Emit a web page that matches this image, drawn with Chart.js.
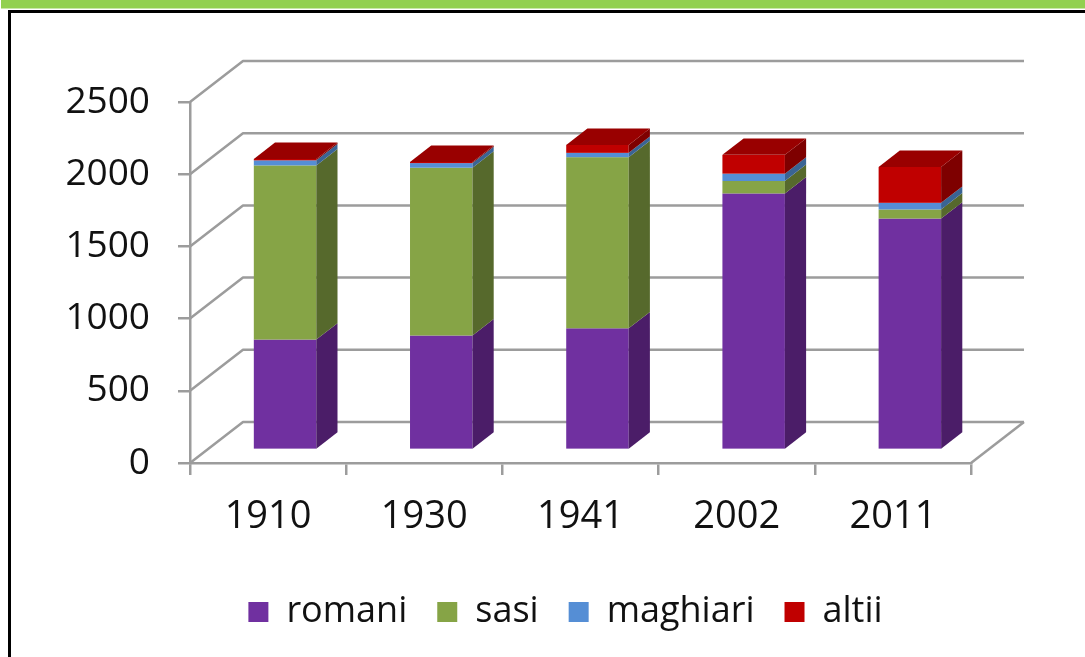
<!DOCTYPE html>
<html lang="ro">
<head>
  <meta charset="UTF-8">
  <title>Populatia pe etnii</title>
  <script src="https://cdn.jsdelivr.net/npm/chart.js"></script>
  <style>
    body { margin: 0; padding: 0; background: #fff; }
    canvas { display: block; }
  </style>
</head>
<body>
  <canvas id="etnii" width="1085" height="657"></canvas>

  <script>
    // Data
    const years = ['1910', '1930', '1941', '2002', '2011'];
    const romani = [764, 792, 842, 1776, 1602];
    const sasi = [1206, 1162, 1185, 86, 63];
    const maghiari = [35, 32, 30, 51, 46];
    const altii = [10, 8, 55, 130, 248];
    const yTicks = [0, 500, 1000, 1500, 2000, 2500];

    // front / side / top shades
    const shades = [
      ['#7030a0', '#4b1d68', '#5a2680'],
      ['#86a446', '#56692c', '#6b8436'],
      ['#558ed5', '#3a6494', '#4676b0'],
      ['#c00000', '#7e0000', '#990000']
    ];

    const FONT = "'Open Sans', 'DejaVu Sans', sans-serif";
    const GRID = '#9c9c9c';
    const DX = 53, DY = 41;        // depth of the walls
    const FRONT = 0.32, DEPTH = 0.4; // where the columns sit in the depth

    // frame, walls and gridlines
    const walls = {
      id: 'walls',
      afterLayout(chart) {
        // centre the legend under the whole picture, not the plot
        chart.legend.left -= 15;
        chart.legend.right -= 15;
      },
      beforeDraw(chart) {
        const c = chart.ctx;
        c.save();
        c.fillStyle = '#fff';
        c.fillRect(0, 0, chart.width, chart.height);
        c.fillStyle = '#92d050';
        c.fillRect(1, 0, chart.width, 8.5);
        c.strokeStyle = '#000';
        c.lineWidth = 3;
        c.strokeRect(9.5, 11.5, chart.width + 20, chart.height + 20);
        c.restore();
      },
      beforeDatasetsDraw(chart) {
        const c = chart.ctx;
        const { left, right, bottom } = chart.chartArea;
        const y = chart.scales.y;
        c.save();
        c.strokeStyle = GRID;
        c.lineWidth = 2.5;
        c.lineJoin = 'round';
        yTicks.forEach(v => {
          const py = y.getPixelForValue(v);
          c.beginPath();
          c.moveTo(left, py);
          c.lineTo(left + DX, py - DY);
          c.lineTo(right + DX, py - DY);
          c.stroke();
        });
        c.beginPath();
        c.moveTo(right, bottom);
        c.lineTo(right + DX, bottom - DY);
        c.stroke();
        c.restore();
      },
      beforeDatasetDraw() {
        return false; // the columns are drawn in 3D below
      },
      afterDatasetsDraw(chart) {
        const c = chart.ctx;
        const sx = FRONT * DX, sy = FRONT * DY;
        const dx = DEPTH * DX, dy = DEPTH * DY;
        const n = chart.data.datasets.length;
        c.save();
        years.forEach((yr, j) => {
          let last = -1;
          for (let i = 0; i < n; i++) {
            const bar = chart.getDatasetMeta(i).data[j];
            const p = bar.getProps(['x', 'y', 'base', 'width'], true);
            const l = p.x - p.width / 2 + sx, r = p.x + p.width / 2 + sx;
            const t = p.y - sy, b = p.base - sy;
            if (b - t <= 0) continue;
            // front
            c.fillStyle = shades[i][0];
            c.fillRect(l, t, r - l, b - t);
            // side
            c.fillStyle = shades[i][1];
            c.beginPath();
            c.moveTo(r, t);
            c.lineTo(r + dx, t - dy);
            c.lineTo(r + dx, b - dy);
            c.lineTo(r, b);
            c.closePath();
            c.fill();
            last = i;
          }
          if (last >= 0) {
            const p = chart.getDatasetMeta(last).data[j].getProps(['x', 'y', 'width'], true);
            const l = p.x - p.width / 2 + sx, r = p.x + p.width / 2 + sx;
            const t = p.y - sy;
            c.fillStyle = shades[last][2];
            c.beginPath();
            c.moveTo(l, t);
            c.lineTo(l + dx, t - dy);
            c.lineTo(r + dx, t - dy);
            c.lineTo(r, t);
            c.closePath();
            c.fill();
          }
        });
        c.restore();
      }
    };

    const series = [
      ['romani', romani],
      ['sasi', sasi],
      ['maghiari', maghiari],
      ['altii', altii]
    ];

    new Chart(document.getElementById('etnii'), {
      type: 'bar',
      data: {
        labels: years,
        datasets: series.map(([name, vals], i) => ({
          label: name,
          data: vals,
          backgroundColor: shades[i][0],
          borderWidth: 0,
          categoryPercentage: 0.4,
          barPercentage: 1
        }))
      },
      options: {
        responsive: false,
        animation: false,
        devicePixelRatio: 1,
        layout: { padding: { left: 40, right: 114, top: 102, bottom: 17 } },
        plugins: {
          tooltip: { enabled: false },
          legend: {
            position: 'bottom',
            fullSize: false,
            labels: {
              font: { family: FONT, size: 36 },
              color: '#111',
              boxWidth: 20,
              boxHeight: 20,
              padding: 30
            }
          }
        },
        scales: {
          x: {
            stacked: true,
            offset: true,
            grid: { offset: true, drawOnChartArea: false, tickLength: 12, color: GRID, lineWidth: 2.5 },
            border: { display: true, color: GRID, width: 2.5 },
            ticks: { font: { family: FONT, size: 38 }, color: '#111', padding: 19, maxRotation: 0 },
            afterFit(s) { s.height = 101; }
          },
          y: {
            stacked: true,
            min: 0,
            max: 2500,
            grid: { drawOnChartArea: false, tickLength: 12, color: GRID, lineWidth: 2.5 },
            border: { display: true, color: GRID, width: 2.5 },
            ticks: {
              stepSize: 500,
              font: { family: FONT, size: 37 },
              color: '#111',
              padding: 28,
              callback: v => String(v)
            },
            afterFit(s) { s.width = 150; }
          }
        }
      },
      plugins: [walls]
    });
  </script>
</body>
</html>
